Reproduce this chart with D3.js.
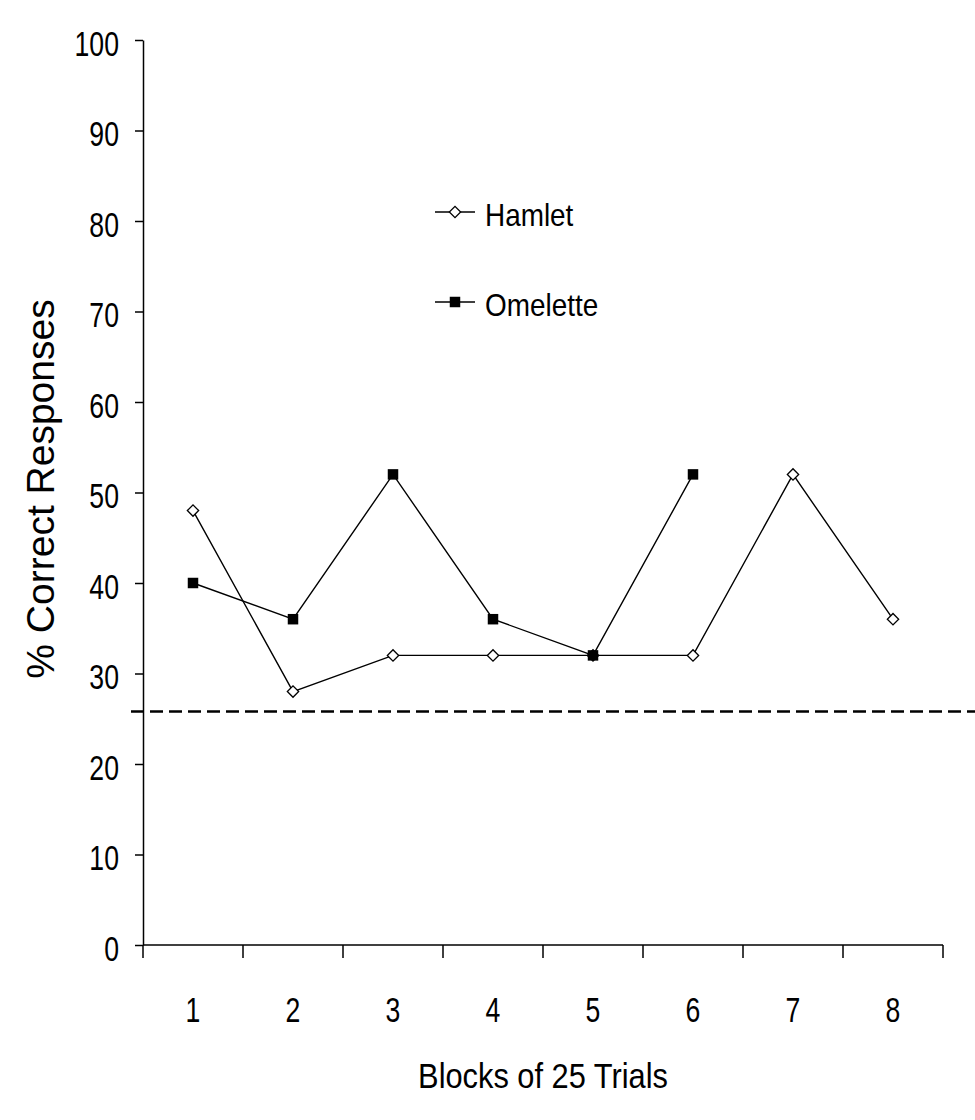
<!DOCTYPE html>
<html>
<head>
<meta charset="utf-8">
<script src="https://cdn.jsdelivr.net/npm/d3@7.9.0/dist/d3.min.js"></script>
<style>
  body { margin: 0; background: #fff; }
  svg text { fill: #000; font-family: "Liberation Sans", Arial, sans-serif; }
</style>
</head>
<body>
<svg width="975" height="1120"></svg>
<script>
// data
const blocks = ['1', '2', '3', '4', '5', '6', '7', '8'];
const hamlet = [48, 28, 32, 32, 32, 32, 52, 36];
const omelette = [40, 36, 52, 36, 32, 52];
const yTicks = [0, 10, 20, 30, 40, 50, 60, 70, 80, 90, 100];
const chanceLevel = 25.8;

const svg = d3.select('svg');

let x = d3.scaleBand().domain(blocks).range([143, 943]);
let y = d3.scaleLinear().domain([0, 100]).range([945, 40]);

// narrow text: place a group, then squeeze it horizontally
function narrowText(parent, px, py, str, size, anchor, sq) {
  return parent.append('g')
    .attr('transform', `translate(${px},${py}) scale(${sq},1)`)
    .append('text')
    .attr('text-anchor', anchor || 'start')
    .attr('font-size', size)
    .text(str);
}

// y axis
let yAxis = svg.append('g')
  .attr('transform', 'translate(143,0)')
  .call(d3.axisLeft(y).tickValues(yTicks).tickSize(8).tickSizeOuter(0).tickFormat(''));
yAxis.select('.domain').attr('stroke', '#000').attr('stroke-width', 1.5);
yAxis.selectAll('.tick line').attr('stroke', '#000').attr('stroke-width', 1.5);
let yLabels = svg.append('g');
yTicks.forEach(t => {
  narrowText(yLabels, 119, y(t) + 3, String(t), 36, 'end', 0.74).attr('dy', '0.36em');
});

// x axis - ticks on the band edges, labels in the middle
let xAxis = svg.append('g').attr('transform', 'translate(0,945)');
xAxis.append('line')
  .attr('x1', 143).attr('x2', 943)
  .attr('stroke', '#000').attr('stroke-width', 1.5);
let edges = blocks.map(b => x(b)).concat([x.range()[1]]);
xAxis.selectAll('.edge').data(edges).join('line')
  .attr('class', 'edge')
  .attr('x1', d => d).attr('x2', d => d)
  .attr('y1', 0).attr('y2', 13)
  .attr('stroke', '#000').attr('stroke-width', 1.5);
blocks.forEach(b => {
  narrowText(xAxis, x(b) + x.bandwidth() / 2, 77, b, 35, 'middle', 0.76);
});

// axis titles
narrowText(svg, 543, 1088, 'Blocks of 25 Trials', 35, 'middle', 0.88);

svg.append('text')
  .attr('transform', 'translate(54,489) rotate(-90)')
  .attr('text-anchor', 'middle')
  .attr('font-size', 39)
  .text('% Correct Responses');

// chance line
svg.append('line')
  .attr('x1', 131).attr('x2', 975)
  .attr('y1', y(chanceLevel)).attr('y2', y(chanceLevel))
  .attr('stroke', '#000').attr('stroke-width', 2.4)
  .attr('stroke-dasharray', '13,6');

let cx = (d, i) => x(blocks[i]) + x.bandwidth() / 2;
let line = d3.line().x(cx).y(d => y(d));

svg.append('path').datum(hamlet)
  .attr('d', line).attr('fill', 'none')
  .attr('stroke', '#000').attr('stroke-width', 1.4);
svg.append('path').datum(omelette)
  .attr('d', line).attr('fill', 'none')
  .attr('stroke', '#000').attr('stroke-width', 1.4);

let diamond = d3.symbol().type(d3.symbolSquare).size(64);
let square = d3.symbol().type(d3.symbolSquare).size(110);

svg.selectAll('.ham').data(hamlet).join('path')
  .attr('class', 'ham')
  .attr('d', diamond)
  .attr('transform', (d, i) => `translate(${cx(d, i)},${y(d)}) rotate(45)`)
  .attr('fill', '#fff').attr('stroke', '#000').attr('stroke-width', 1.3);
svg.selectAll('.ome').data(omelette).join('path')
  .attr('class', 'ome')
  .attr('d', square)
  .attr('transform', (d, i) => `translate(${cx(d, i)},${y(d)})`)
  .attr('fill', '#000');

// legend
let legend = svg.append('g');
let items = [
  { label: 'Hamlet', y: 212, sym: diamond, rot: 45, fill: '#fff' },
  { label: 'Omelette', y: 302, sym: square, rot: 0, fill: '#000' }
];
items.forEach(it => {
  legend.append('line')
    .attr('x1', 435).attr('x2', 475)
    .attr('y1', it.y).attr('y2', it.y)
    .attr('stroke', '#000').attr('stroke-width', 1.4);
  legend.append('path')
    .attr('d', it.sym)
    .attr('transform', `translate(455,${it.y}) rotate(${it.rot})`)
    .attr('fill', it.fill).attr('stroke', '#000').attr('stroke-width', it.rot ? 1.3 : 0);
  narrowText(legend, 485, it.y + 3, it.label, 31, 'start', 0.9).attr('dy', '0.36em');
});
</script>
</body>
</html>
